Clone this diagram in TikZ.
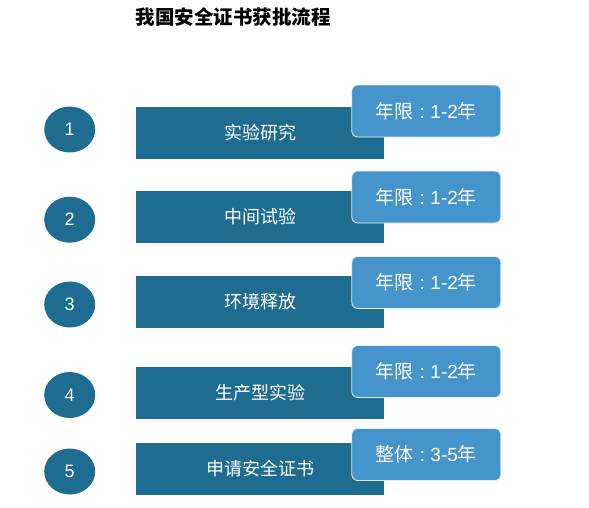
\documentclass[tikz,border=0pt]{standalone}
\usepackage{fontspec}
\setmainfont{Liberation Sans}
\newfontfamily\cjk{Noto Sans CJK SC}
\usetikzlibrary{shapes.geometric}
\definecolor{darkteal}{HTML}{1E6D90}
\definecolor{badgeblue}{HTML}{4595CC}
\tikzset{
  numdot/.style={ellipse, fill=darkteal, minimum width=51pt, minimum height=46pt, inner sep=0pt,
    text=white, font=\fontsize{18}{18}\selectfont},
  stepbox/.style={rectangle, fill=darkteal, minimum width=248pt, minimum height=52pt, inner sep=0pt,
    text=white, font=\cjk\fontsize{18}{18}\selectfont},
  badge/.style={rectangle, rounded corners=6pt, fill=badgeblue, draw=white!85!badgeblue, line width=0.8pt,
    minimum width=149pt, minimum height=52pt, inner sep=0pt, text=white, font=\fontsize{19}{19}\selectfont},
}
\newcommand{\cj}[1]{{\cjk\fontsize{19}{19}\selectfont #1}}
\newcommand{\colsep}{\hspace{6pt}:\hspace{5.5pt}}
\begin{document}
\begin{tikzpicture}[x=1pt,y=-1pt]
\useasboundingbox (0,0) rectangle (589,507);
\node[font=\cjk\bfseries\fontsize{19.5}{19.5}\selectfont, text=black] (title) at (233,17.5) {我国安全证书获批流程};
\foreach \i/\ey/\ry/\by/\lab/\dur in {
  1/129.5/133/111/实验研究/{\cj{年限}\colsep 1-2\cj{年}},
  2/219.7/217/197/中间试验/{\cj{年限}\colsep 1-2\cj{年}},
  3/304.5/302/282.5/环境释放/{\cj{年限}\colsep 1-2\cj{年}},
  4/395/393/371.5/生产型实验/{\cj{年限}\colsep 1-2\cj{年}},
  5/471.5/469/454.5/申请安全证书/{\cj{整体}\colsep 3-5\cj{年}}} {
  \node[numdot] (e\i) at (69.7,\ey) {\i};
  \node[stepbox] (r\i) at (260,\ry) {\lab};
  \node[badge] (b\i) at (426.3,\by) {\dur};
}
\end{tikzpicture}
\end{document}
